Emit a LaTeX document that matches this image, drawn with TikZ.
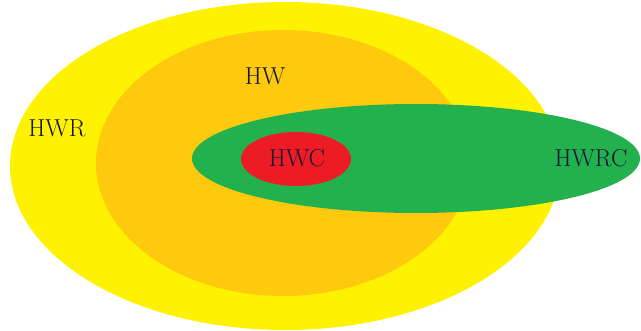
\documentclass[tikz,border=0pt]{standalone}
\begin{document}
\begin{tikzpicture}[x=1pt,y=-1pt,
  lbl/.style={font=\fontsize{24.5}{26}\selectfont, text={rgb,255:red,20;green,20;blue,60}, inner sep=0pt}]
\definecolor{pyellow}{HTML}{FFF200}
\definecolor{porange}{HTML}{FFC90E}
\definecolor{pgreen}{HTML}{22B14C}
\definecolor{pred}{HTML}{ED1C24}
\useasboundingbox (0,0) rectangle (641,331);
\fill[pyellow] (285,166) ellipse [x radius=275, y radius=164];
\fill[porange] (283,163) ellipse [x radius=187, y radius=133];
\fill[pgreen] (416,158.5) ellipse [x radius=224, y radius=54.5];
\fill[pred] (296,159) ellipse [x radius=55, y radius=27];
\node[lbl] (hwr) at (57,128) {HWR};
\node[lbl] (hw) at (265,76) {HW};
\node[lbl] (hwc) at (297,158) {HWC};
\node[lbl] (hwrc) at (591,158) {HWRC};
\end{tikzpicture}
\end{document}
